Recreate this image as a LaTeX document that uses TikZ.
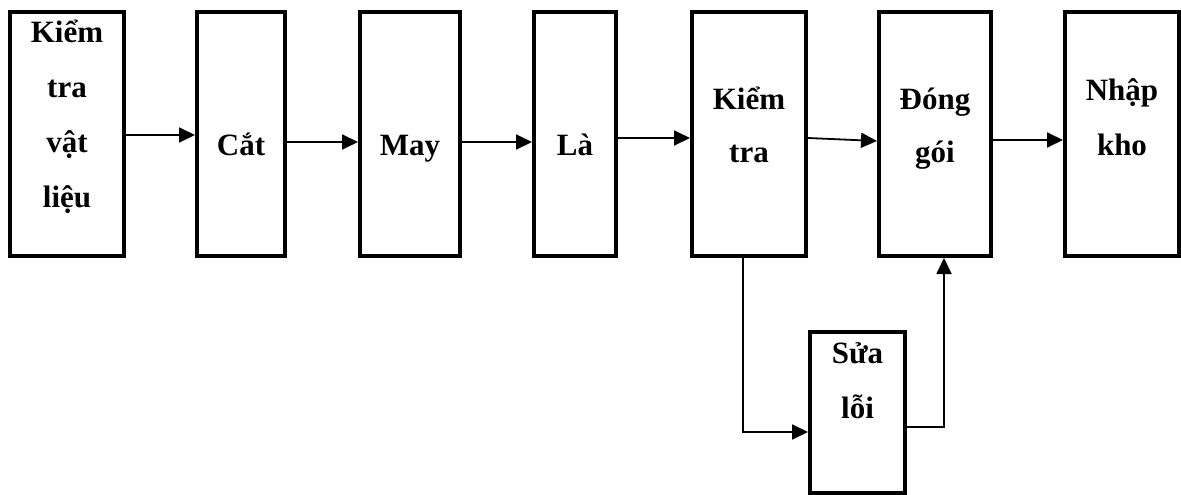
\documentclass[tikz,border=0pt]{standalone}
\usepackage{fontspec}
\setmainfont{Liberation Serif}
\usetikzlibrary{arrows.meta}

% stacked lines whose baseline is that of the first line
\newcommand\lines[2][55pt]{\vtop{\baselineskip=#1\lineskiplimit=-100pt\halign{\hfil##\hfil\cr#2\crcr}}}

\tikzset{
  stage/.style={draw, line width=4pt, rectangle, inner sep=0pt, minimum height=244pt},
  caption/.style={anchor=base, inner sep=0pt, font=\fontsize{31}{55}\selectfont\bfseries},
  flow/.style={line width=1.8pt, -{Triangle[length=16pt, width=15pt]}}
}

\begin{document}
\begin{tikzpicture}[x=1pt, y=-1pt]
\useasboundingbox (0,0) rectangle (1181,495);

% process stages
\node[stage, minimum width=114pt] (b1) at (67,134) {};
\node[stage, minimum width=88pt]  (b2) at (241,134) {};
\node[stage, minimum width=100pt] (b3) at (410,134) {};
\node[stage, minimum width=82pt]  (b4) at (575,134) {};
\node[stage, minimum width=114pt] (b5) at (749,134) {};
\node[stage, minimum width=112pt] (b6) at (935,134) {};
\node[stage, minimum width=114pt] (b7) at (1122,134) {};
\node[stage, minimum width=95pt, minimum height=161pt] (fix) at (857.5,412.5) {};

% stage names
\node[caption] (t1) at (b1.center |- 0,43) {\lines{Kiểm\cr tra\cr vật\cr liệu}};
\node[caption] (t2) at (b2.center |- 0,155) {Cắt};
\node[caption] (t3) at (b3.center |- 0,155) {May};
\node[caption] (t4) at (b4.center |- 0,155) {Là};
\node[caption] (t5) at (b5.center |- 0,110) {\lines[53pt]{Kiểm\cr tra}};
\node[caption] (t6) at (b6.center |- 0,110) {\lines[53pt]{Đóng\cr gói}};
\node[caption] (t7) at (b7.center |- 0,100) {\lines{Nhập\cr kho}};
\node[caption] (t8) at (fix.center |- 0,363) {\lines{Sửa\cr lỗi}};

% main flow
\draw[flow] ([xshift=-3pt]b1.east |- 0,135) -- (b2.west |- 0,135);
\draw[flow] (b2.east |- 0,142) -- (b3.west |- 0,142);
\draw[flow] (b3.east |- 0,142) -- (b4.west |- 0,142);
\draw[flow] (b4.east |- 0,138) -- (b5.west |- 0,138);
\draw[flow] (b5.east |- 0,138) -- (b6.west |- 0,141);
\draw[flow] (b6.east |- 0,140) -- (b7.west |- 0,140);

% repair loop
\coordinate (down) at ([xshift=-6pt]b5.south);
\coordinate (up) at ([xshift=9pt]b6.south);
\draw[flow] (down) |- (fix.west |- 0,432);
\draw[flow] (fix.east |- 0,427) -| (up);
\end{tikzpicture}
\end{document}
